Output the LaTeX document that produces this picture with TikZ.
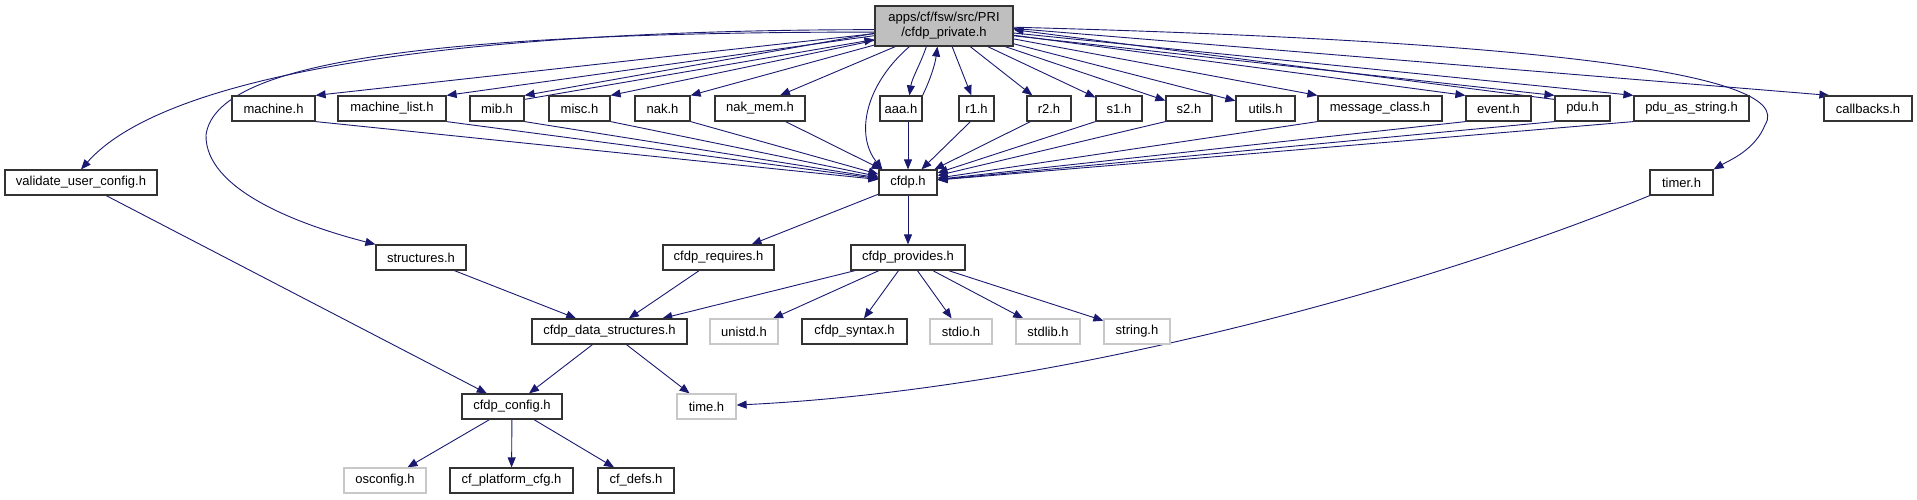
\documentclass[tikz,border=0pt]{standalone}
\usepackage{fontspec}
\setmainfont{Liberation Sans}
\usetikzlibrary{arrows.meta}
\definecolor{edgeblue}{HTML}{191970}
\definecolor{rootgray}{HTML}{BFBFBF}
\definecolor{boxline}{HTML}{333333}
\definecolor{lightline}{HTML}{C8C8C8}
\newcommand{\fsz}{\fontsize{13}{15}\selectfont}
\pgfdeclarelayer{edgelayer}
\pgfsetlayers{edgelayer,main}
\tikzset{
  nb/.style={draw=boxline, line width=1.2pt, fill=white, minimum height=25pt, inner sep=0pt, font=\fsz},
  ng/.style={nb, draw=lightline},
  rootbox/.style={nb, fill=rootgray, minimum height=40pt, align=center},
  edge/.style={draw=edgeblue, line width=0.9pt, -{Triangle[length=10pt,width=8pt]}},
}
\begin{document}
\begin{tikzpicture}[x=1pt,y=-1pt]
\useasboundingbox (0,0) rectangle (1917,500);
% nodes
\node[rootbox, minimum width=138pt] (root) at (944,26) {apps/cf/fsw/src/PRI\\/cfdp\_private.h};
\node[nb, minimum width=83pt]  (machine) at (273.5,108.5) {machine.h};
\node[nb, minimum width=108pt] (mlist)   at (392,108.5) {machine\_list.h};
\node[nb, minimum width=54pt]  (mib)     at (497,108.5) {mib.h};
\node[nb, minimum width=61pt]  (misc)    at (579.5,108.5) {misc.h};
\node[nb, minimum width=55pt]  (nak)     at (662.5,108.5) {nak.h};
\node[nb, minimum width=90pt]  (nakmem)  at (760,108.5) {nak\_mem.h};
\node[nb, minimum width=42pt]  (aaa)     at (901,108.5) {aaa.h};
\node[nb, minimum width=35pt]  (r1)      at (976.5,108.5) {r1.h};
\node[nb, minimum width=44pt]  (r2)      at (1049,108.5) {r2.h};
\node[nb, minimum width=46pt]  (s1)      at (1119,108.5) {s1.h};
\node[nb, minimum width=46pt]  (s2)      at (1189,108.5) {s2.h};
\node[nb, minimum width=59pt]  (utils)   at (1265.5,108.5) {utils.h};
\node[nb, minimum width=124pt] (msg)     at (1380,108.5) {message\_class.h};
\node[nb, minimum width=65pt]  (event)   at (1498.5,108.5) {event.h};
\node[nb, minimum width=55pt]  (pdu)     at (1582.5,108.5) {pdu.h};
\node[nb, minimum width=115pt] (pdustr)  at (1691.5,108.5) {pdu\_as\_string.h};
\node[nb, minimum width=88pt]  (callb)   at (1868,108.5) {callbacks.h};
\node[nb, minimum width=152pt] (valid)   at (81,182.5) {validate\_user\_config.h};
\node[nb, minimum width=58pt]  (cfdp)    at (908,182.5) {cfdp.h};
\node[nb, minimum width=63pt]  (timer)   at (1681.5,182.5) {timer.h};
\node[nb, minimum width=90pt]  (struct)  at (421,257.5) {structures.h};
\node[nb, minimum width=111pt] (req)     at (718.5,257.5) {cfdp\_requires.h};
\node[nb, minimum width=114pt] (prov)    at (908,257.5) {cfdp\_provides.h};
\node[nb, minimum width=155pt] (ds)      at (609.5,331.5) {cfdp\_data\_structures.h};
\node[ng, minimum width=68pt]  (unistd)  at (744,331.5) {unistd.h};
\node[nb, minimum width=105pt] (syntax)  at (854.5,331.5) {cfdp\_syntax.h};
\node[ng, minimum width=62pt]  (stdio)   at (961,331.5) {stdio.h};
\node[ng, minimum width=64pt]  (stdlib)  at (1048,331.5) {stdlib.h};
\node[ng, minimum width=66pt]  (string)  at (1137,331.5) {string.h};
\node[nb, minimum width=100pt] (config)  at (512,406.5) {cfdp\_config.h};
\node[ng, minimum width=59pt]  (time)    at (706.5,406.5) {time.h};
\node[ng, minimum width=82pt]  (oscfg)   at (385,480.5) {osconfig.h};
\node[nb, minimum width=123pt] (plat)    at (511.5,480.5) {cf\_platform\_cfg.h};
\node[nb, minimum width=76pt]  (defs)    at (636,480.5) {cf\_defs.h};
\begin{pgfonlayer}{edgelayer}
% edges from root
\draw[edge] (root.183) .. controls (420,30) and (160,80) .. (valid.north);
\draw[edge] (root.185) .. controls (380,32) and (215,70) .. (206,135) .. controls (205,190) and (300,225) .. (struct.north west);
\draw[edge] (root) -- (machine.north east);
\draw[edge] (root) -- (mlist.north east);
\draw[edge] (root.186) -- (mib.north east);
\draw[edge] ([yshift=-4pt]mib.north east) -- (root.191);
\draw[edge] (root) -- (misc.north east);
\draw[edge] (root) -- (nak.north east);
\draw[edge] (root) -- ([xshift=20pt]nakmem.north);
\draw[edge] ([xshift=52pt]root.south west) .. controls (920,65) and (912,78) .. ([xshift=30pt]aaa.north west);
\draw[edge] (aaa.north east) .. controls (930,80) and (935,65) .. ([xshift=63pt]root.south west);
\draw[edge] ([xshift=35pt]root.south west) .. controls (865,85) and (855,135) .. ([xshift=4pt]cfdp.north west);
\draw[edge] (root) -- (r1);
\draw[edge] (root) -- (r2);
\draw[edge] (root) -- (s1);
\draw[edge] (root) -- (s2);
\draw[edge] (root) -- (utils);
\draw[edge] (root) -- (msg.north west);
\draw[edge] (root) -- (event.north west);
\draw[edge] (root.-8) -- (pdu.north west);
\draw[edge] ([yshift=-4pt]pdu.north west) -- (root.-3);
\draw[edge] (root) -- (pdustr.north west);
\draw[edge] (root.-2) -- ([xshift=6pt]callb.north west);
\draw[edge] (root.-1) .. controls (1500,40) and (1800,70) .. (1765,125) .. controls (1755,150) and (1730,160) .. (timer.north east);
% into cfdp
\foreach \n in {machine,mlist,mib,misc,nak}
  \draw[edge] (\n.south east) -- (cfdp);
\draw[edge] ([xshift=-20pt]nakmem.south east) -- (cfdp);
\draw[edge] ([xshift=-6pt]r1.south) -- (cfdp);
\draw[edge] ([xshift=4pt]r2.south west) -- (cfdp);
\foreach \n in {s1,s2,msg,event,pdu,pdustr}
  \draw[edge] (\n.south west) -- (cfdp);
\draw[edge] (aaa.south -| cfdp.north) -- (cfdp.north);
% lower part
\draw[edge] (cfdp) -- (req);
\draw[edge] (cfdp) -- (prov);
\draw[edge] (req) -- (ds);
\draw[edge] (struct) -- (ds);
\draw[edge] (prov) -- (ds);
\draw[edge] (prov) -- (unistd);
\draw[edge] (prov) -- (syntax);
\draw[edge] (prov) -- (stdio);
\draw[edge] (prov) -- (stdlib);
\draw[edge] (prov) -- (string);
\draw[edge] (valid) -- (config);
\draw[edge] (ds) -- (config);
\draw[edge] (ds) -- (time);
\draw[edge] (timer) .. controls (1420,290) and (1050,390) .. (time);
\draw[edge] (config) -- (oscfg);
\draw[edge] (config) -- (plat);
\draw[edge] (config) -- (defs);
\end{pgfonlayer}
\end{tikzpicture}
\end{document}
